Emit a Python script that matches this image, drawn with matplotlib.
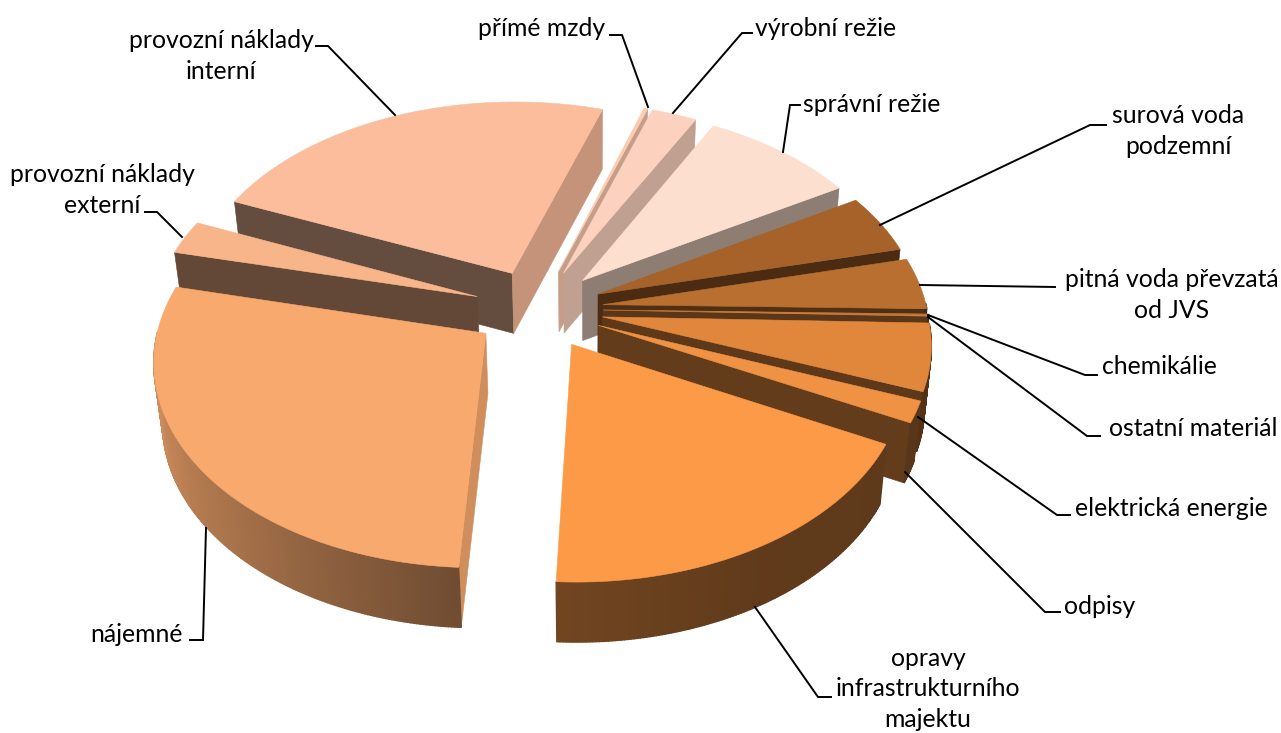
import numpy as np
import matplotlib
matplotlib.use('Agg')
import matplotlib.pyplot as plt

# Share of each cost item in percent, clockwise from the first slice
categories = ['přímé mzdy', 'výrobní režie', 'správní režie', 'surová voda podzemní',
              'pitná voda převzatá od JVS', 'chemikálie', 'ostatní materiál',
              'elektrická energie', 'odpisy', 'opravy infrastrukturního majektu',
              'nájemné', 'provozní náklady externí', 'provozní náklady interní']
shares = [0.22, 2.56, 8.8, 4.7, 4.1, 0.08, 0.08, 5.3, 1.7, 18.4, 27.9, 2.7, 23.6]
colors = ['#FCCBB0', '#FCD2BE', '#FCDFCE', '#A66228', '#B86F30', '#C87836', '#D07E38',
          '#E0873C', '#EF9243', '#FC9A48', '#F8A96E', '#F9B58A', '#FBBD9B']

# Label text, anchor centre in pixels
labels = [
    ('provozní náklady\ninterní', 221, 56),
    ('přímé mzdy', 542, 28),
    ('výrobní režie', 826, 28),
    ('správní režie', 872, 104),
    ('surová voda\npodzemní', 1178, 131),
    ('pitná voda převzatá\nod JVS', 1172, 295),
    ('chemikálie', 1159, 367),
    ('ostatní materiál', 1193, 429),
    ('elektrická energie', 1171, 508),
    ('odpisy', 1100, 606),
    ('opravy\ninfrastrukturního\nmajektu', 928, 689),
    ('nájemné', 137, 634),
    ('provozní náklady\nexterní', 102, 190),
]

# Leader lines
leaders = [
    [(316, 46), (328, 46), (395, 115)],
    [(610, 35), (622, 35), (648, 107)],
    [(752, 33), (742, 33), (673, 113)],
    [(800, 105), (790, 105), (783, 152)],
    [(1106, 125), (1090, 125), (880, 225)],
    [(1055, 287), (920, 285)],
    [(1097, 375), (1085, 375), (928, 315)],
    [(1100, 436), (1087, 436), (928, 317)],
    [(1070, 515), (1057, 515), (918, 417)],
    [(1060, 612), (1045, 612), (905, 472)],
    [(831, 697), (818, 697), (755, 607)],
    [(190, 640), (203, 640), (206, 528)],
    [(145, 212), (157, 212), (182, 237)],
]

# Pie geometry in pixels, with a simple perspective
start_angle = 17.9
cx, cy = 538.5, 309
radius = 324
squash = 200
persp = 0.12
depth = 60
explode = 0.2
# the underside is a little smaller, it shrinks towards this x
bottom_x = 590
bottom_scale = 0.98


def project(u, v):
    f = 1 / (1 - persp * v)
    return cx + radius * u * f, cy + squash * v * f


def rim(a, off_u, off_v):
    a = np.radians(a)
    return off_u + np.sin(a), off_v - np.cos(a)


def shade(color, k):
    return tuple(k * c for c in matplotlib.colors.to_rgb(color))


def face(ax, xs, ys, color, lw=0.4):
    low = [bottom_x + (x - bottom_x) * bottom_scale for x in xs]
    px = list(xs) + low[::-1]
    py = list(ys) + [y + depth for y in list(ys)[::-1]]
    ax.fill(px, py, color=color, lw=lw)


fig = plt.figure(figsize=(12.81, 7.33), dpi=100)
ax = fig.add_axes([0, 0, 1, 1])
ax.set_xlim(0, 1281)
ax.set_ylim(733, 0)
ax.axis('off')

angles = np.array(shares) / sum(shares) * 360
ends = start_angle + np.cumsum(angles)
starts = ends - angles
mids = (starts + ends) / 2

# far slices first so nearer ones cover them
for i in np.argsort(np.cos(np.radians(mids)))[::-1]:
    a0, a1, col = starts[i], ends[i], colors[i]
    off_u = explode * np.sin(np.radians(mids[i]))
    off_v = -explode * np.cos(np.radians(mids[i]))
    ax0, ay0 = project(off_u, off_v)

    x0, y0 = project(*rim(a0, off_u, off_v))
    x1, y1 = project(*rim(a1, off_u, off_v))

    # straight walls, only the ones turned to the viewer
    if np.sin(np.radians(a0)) < 0:
        start_k = 0.84 if a0 % 360 < 200 else 0.40
        face(ax, [ax0, x0], [ay0, y0], shade(col, start_k))
    if np.sin(np.radians(a1)) > 0:
        end_k = np.interp(a1 % 360, [18, 28, 58, 77, 116], [0.78, 0.76, 0.57, 0.45, 0.41])
        face(ax, [ax0, x1], [ay0, y1], shade(col, end_k))

    # outer wall, cut in strips for the gradient
    arc = np.linspace(a0, a1, max(int(a1 - a0) * 2, 2) + 1)
    arc_u, arc_v = rim(arc, off_u, off_v)
    xs, ys = project(arc_u, arc_v)
    for j in range(len(arc) - 1):
        if np.cos(np.radians(arc[j])) < 0 or np.cos(np.radians(arc[j + 1])) < 0:
            k = np.interp(arc[j] % 360, [100, 150, 183, 225, 255, 283],
                          [0.37, 0.38, 0.45, 0.68, 0.82, 0.84])
            face(ax, xs[j:j + 2], ys[j:j + 2], shade(col, k), lw=1.0)

    # top
    ax.fill([ax0] + list(xs), [ay0] + list(ys), color=col, lw=0.4)

for pts in leaders:
    ax.plot([p[0] for p in pts], [p[1] for p in pts], color='black', lw=1.4,
            solid_joinstyle='miter')

for text, x, y in labels:
    ax.text(x, y, text, ha='center', va='center', fontsize=17.8, family='Lato',
            linespacing=1.38, color='black')

fig.savefig('out.png', dpi=100)
